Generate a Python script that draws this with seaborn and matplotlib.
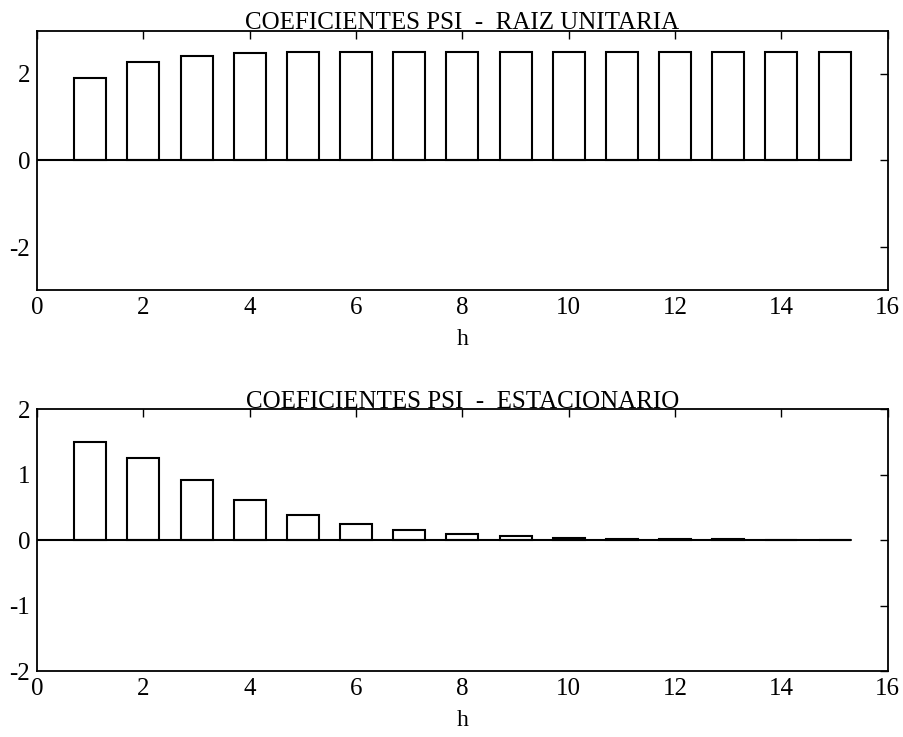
import numpy as np
import pandas as pd
import matplotlib
matplotlib.use("Agg")
import matplotlib.pyplot as plt
import seaborn as sns

# Data
h = list(range(1, 16))
psi_unit_root = [1.90, 2.27, 2.42, 2.48, 2.50, 2.51, 2.51, 2.51, 2.51, 2.51, 2.51, 2.51, 2.51, 2.51, 2.50]
psi_stationary = [1.50, 1.26, 0.91, 0.605, 0.385, 0.24, 0.15, 0.09, 0.056, 0.036, 0.02, 0.015, 0.01, 0.005, 0.003]
titles = ["COEFICIENTES PSI  -  RAIZ UNITARIA", "COEFICIENTES PSI  -  ESTACIONARIO"]
xticks = [0, 2, 4, 6, 8, 10, 12, 14, 16]
yticks_top = [-2, 0, 2]
yticks_bot = [-2, -1, 0, 1, 2]

sns.set_theme(style="white")
plt.rcParams['font.family'] = ['Liberation Serif', 'DejaVu Serif']

fig = plt.figure(figsize=(9.04, 7.37), dpi=100)
ax1 = fig.add_axes([0.041, 0.606, 0.941, 0.3526])
ax2 = fig.add_axes([0.041, 0.0895, 0.941, 0.3555])

for ax, vals, title, yt, ylim in [
    (ax1, psi_unit_root, titles[0], yticks_top, (-3, 3)),
    (ax2, psi_stationary, titles[1], yticks_bot, (-2, 2)),
]:
    df = pd.DataFrame({"h": h, "psi": vals})
    sns.barplot(data=df, x="h", y="psi", native_scale=True, width=0.6,
                color="white", edgecolor="black", linewidth=1.5,
                saturation=1, errorbar=None, ax=ax)
    ax.plot([0, h[-1] + 0.3], [0, 0], color="black", linewidth=1.5)
    ax.set_xlim(0, 16)
    ax.set_ylim(*ylim)
    ax.set_xticks(xticks)
    ax.set_xticklabels([str(t) for t in xticks])
    ax.set_yticks(yt)
    ax.set_yticklabels([str(t) for t in yt])
    ax.tick_params(direction="in", top=True, right=True, length=6, width=1,
                   labelsize=18, colors="black", pad=5)
    for s in ax.spines.values():
        s.set_visible(True)
        s.set_color("black")
        s.set_linewidth(1.3)
    ax.set_title(title, fontsize=18, pad=1, color="black")
    ax.set_xlabel("h", fontsize=17, labelpad=7, color="black")
    ax.set_ylabel("")
    ax.set_facecolor("white")

fig.savefig("out.png", dpi=100, facecolor="white")
